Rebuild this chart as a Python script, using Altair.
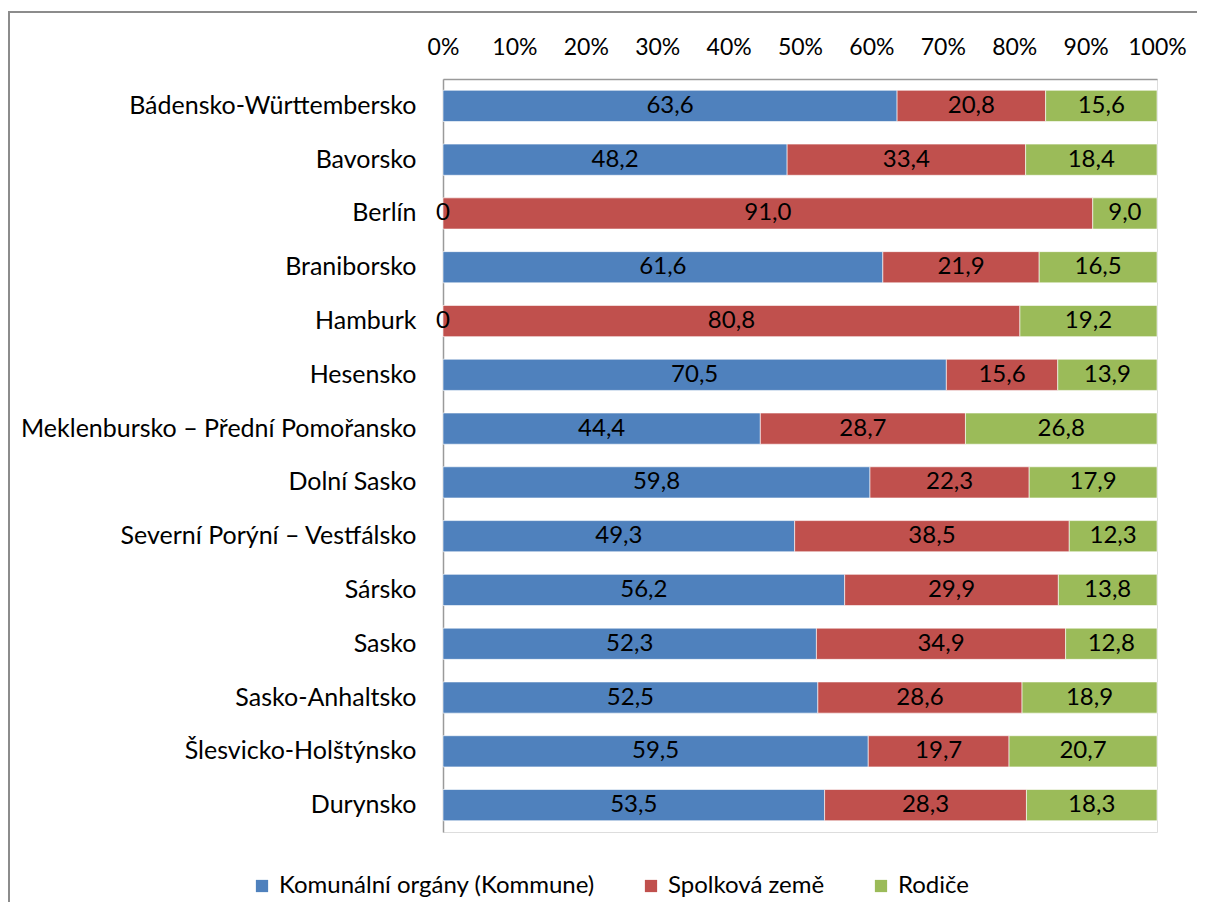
import altair as alt
import pandas as pd

states = ["Bádensko-Württembersko", "Bavorsko", "Berlín", "Braniborsko", "Hamburk",
          "Hesensko", "Meklenbursko – Přední Pomořansko", "Dolní Sasko",
          "Severní Porýní – Vestfálsko", "Sársko", "Sasko", "Sasko-Anhaltsko",
          "Šlesvicko-Holštýnsko", "Durynsko"]
kommune = [63.6, 48.2, 0, 61.6, 0, 70.5, 44.4, 59.8, 49.3, 56.2, 52.3, 52.5, 59.5, 53.5]
zeme = [20.8, 33.4, 91.0, 21.9, 80.8, 15.6, 28.7, 22.3, 38.5, 29.9, 34.9, 28.6, 19.7, 28.3]
rodice = [15.6, 18.4, 9.0, 16.5, 19.2, 13.9, 26.8, 17.9, 12.3, 13.8, 12.8, 18.9, 20.7, 18.3]
series = ["Komunální orgány (Kommune)", "Spolková země", "Rodiče"]
colors = ["#4F81BD", "#C0504D", "#9BBB59"]
ticks = [0, 0.1, 0.2, 0.3, 0.4, 0.5, 0.6, 0.7, 0.8, 0.9, 1.0]

rows = []
for i, s in enumerate(states):
    for j, (name, vals) in enumerate(zip(series, [kommune, zeme, rodice])):
        v = vals[i]
        lab = "0" if v == 0 else f"{v:.1f}".replace(".", ",")
        rows.append({"state": s, "series": name, "order": j, "value": v, "label": lab})
df = pd.DataFrame(rows)

FONT = "Lato"
FS = 24

yenc = alt.Y("state:N", sort=states, title=None,
             scale=alt.Scale(paddingInner=0.42, paddingOuter=0.21),
             axis=alt.Axis(labelFontSize=25, labelFont=FONT, labelColor="black",
                           labelPadding=27, ticks=False, domainColor="#9a9a9a",
                           domainWidth=1.5, labelLimit=500))

base = alt.Chart(df).transform_stack(
    stack="value", groupby=["state"], as_=["v0", "v1"], offset="normalize",
    sort=[alt.SortField("order", order="ascending")]
).transform_calculate(mid="(datum.v0 + datum.v1) / 2")

bars = base.mark_bar(stroke="white", strokeWidth=0.6).encode(
    x=alt.X("v0:Q", title=None,
            scale=alt.Scale(domain=[0, 1], nice=False),
            axis=alt.Axis(orient="top", values=ticks, format=".0%", labelFontSize=23,
                          labelFont=FONT, labelColor="black", ticks=False, grid=False,
                          labelOverlap=False, labelBound=False, labelFlush=False,
                          labelPadding=20, domainColor="#9a9a9a", domainWidth=1.5)),
    x2="v1:Q",
    y=yenc,
    color=alt.Color("series:N", sort=series,
                    scale=alt.Scale(domain=series, range=colors),
                    legend=alt.Legend(title=None, orient="none", direction="horizontal",
                                      legendX=-193, legendY=795, symbolType="square",
                                      symbolSize=150, symbolStrokeWidth=0,
                                      labelFontSize=FS, labelFont=FONT, labelColor="black",
                                      labelOffset=5, columnPadding=44, labelLimit=600)),
    order=alt.Order("order:Q"),
)

texts = base.mark_text(fontSize=FS, font=FONT, color="black").encode(
    x=alt.X("mid:Q"),
    y=alt.Y("state:N", sort=states),
    text="label:N",
)

frame_df = pd.DataFrame({"f": [0]})
frame_top = alt.Chart(frame_df).mark_rule(stroke="#8c8c8c", strokeWidth=2).encode(
    x=alt.value(-434), x2=alt.value(800), y=alt.value(-67)
)
frame_left = alt.Chart(frame_df).mark_rule(stroke="#8c8c8c", strokeWidth=2).encode(
    x=alt.value(-434), y=alt.value(-68), y2=alt.value(870)
)

chart = alt.layer(bars, texts, frame_top, frame_left).properties(
    width=714, height=753,
    padding={"left": 435, "top": 71, "right": 40, "bottom": 70},
    autosize=alt.AutoSizeParams(type="none"),
).configure_view(stroke=None).configure(font=FONT)

chart.save("out.html", embed_options={"renderer": "svg", "actions": False})
